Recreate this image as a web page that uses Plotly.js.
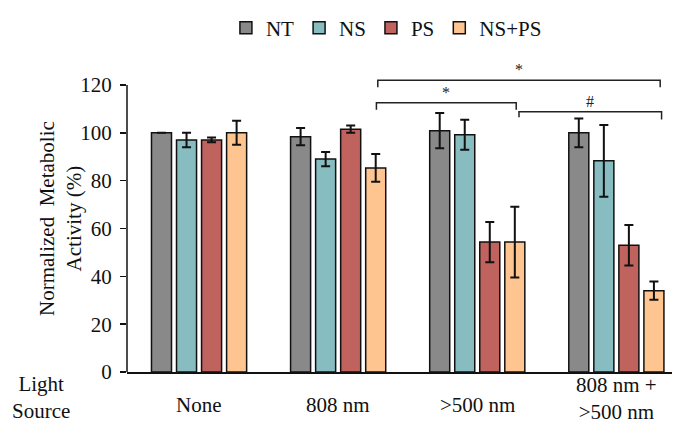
<!DOCTYPE html>
<html>
<head>
<meta charset="utf-8">
<script src="https://cdn.plot.ly/plotly-3.0.1.min.js"></script>
<style>html,body{margin:0;padding:0;background:#fff;}#chart{width:676px;height:426px;}</style>
</head>
<body>
<div id="chart"></div>
<script>
// Data
const categories = ['None', '808 nm', '>500 nm', '808 nm +<br>>500 nm'];
const seriesNames = ['NT', 'NS', 'PS', 'NS+PS'];
const ntValues = [100, 98.4, 100.9, 100];
const ntErrors = [0, 3.6, 7.4, 6];
const nsValues = [97, 89, 99.2, 88.3];
const nsErrors = [3, 3, 6.3, 15];
const psValues = [97, 101.5, 54.3, 53];
const psErrors = [1, 1.5, 8.4, 8.5];
const nspsValues = [100, 85.3, 54.3, 34];
const nspsErrors = [5, 5.8, 14.8, 3.8];
const seriesColors = ['#898989', '#87bcc0', '#c0635e', '#ffc591'];
const yTicks = [0, 20, 40, 60, 80, 100, 120];
const yTitle = 'Normalized  Metabolic<br>Activity (%)';

// Significance brackets (category-index positions, y in % units)
const bracketStart = [1.285, 1.275, 2.30];
const bracketEnd = [3.315, 2.28, 3.325];
const bracketY = [122, 112.6, 108.8];
const bracketDropLeft = [3, 3, 2.3];
const bracketDropRight = [3, 3, 3.2];
const bracketLabels = ['*', '*', '#'];

const FONT = 'Liberation Serif';
const FS = 21;
const valuesList = [ntValues, nsValues, psValues, nspsValues];
const errorsList = [ntErrors, nsErrors, psErrors, nspsErrors];

const traces = seriesNames.map((name, i) => ({
  type: 'bar',
  name: name,
  x: categories,
  y: valuesList[i],
  marker: {color: seriesColors[i], line: {color: '#111', width: 1.5}},
  error_y: {type: 'data', array: errorsList[i], visible: true, color: '#111', thickness: 2, width: 4.5},
  hoverinfo: 'skip'
}));

const shapes = bracketStart.map((s, i) => ({
  type: 'path', xref: 'x', yref: 'y',
  path: 'M ' + s + ',' + (bracketY[i] - bracketDropLeft[i]) + ' L ' + s + ',' + bracketY[i] +
        ' L ' + bracketEnd[i] + ',' + bracketY[i] + ' L ' + bracketEnd[i] + ',' + (bracketY[i] - bracketDropRight[i]),
  line: {color: '#222', width: 1.5}
}));
// y axis line from 0 to 120
shapes.push({type: 'line', xref: 'paper', yref: 'y', x0: 0, x1: 0, y0: 0, y1: 120, line: {color: '#111', width: 1.5}});

const annotations = bracketStart.map((s, i) => ({
  x: (s + bracketEnd[i]) / 2, y: bracketY[i], xref: 'x', yref: 'y',
  text: bracketLabels[i], showarrow: false, yanchor: 'bottom', yshift: 0,
  font: {family: FONT, size: 16, color: '#222'}
}));
categories.forEach(c => annotations.push({
  x: c, xref: 'x', y: c.indexOf('<br>') >= 0 ? -0.09 : -0.112, yref: 'paper', text: c, showarrow: false,
  yanchor: 'middle', xanchor: 'center', font: {family: FONT, size: FS, color: '#111'}
}));
annotations.push({
  x: -0.158, xref: 'paper', y: -0.085, yref: 'paper', text: 'Light<br>Source', showarrow: false,
  xanchor: 'center', yanchor: 'middle', font: {family: FONT, size: FS, color: '#111'}
});
annotations.push({
  x: -0.123, xref: 'paper', y: 0.515, yref: 'paper', text: yTitle, showarrow: false, textangle: -90,
  xanchor: 'center', yanchor: 'middle', font: {family: FONT, size: FS, color: '#111'}
});

const layout = {
  width: 676, height: 426,
  margin: {l: 127, r: 4, t: 73, b: 54},
  paper_bgcolor: '#fff', plot_bgcolor: '#fff',
  font: {family: FONT, size: FS, color: '#111'},
  barmode: 'group', bargap: 0.28, bargroupgap: 0.2,
  showlegend: true,
  legend: {orientation: 'h', x: 0.476, xanchor: 'center', y: 1.15, yanchor: 'middle',
           font: {family: FONT, size: FS, color: '#111'}, traceorder: 'normal'},
  xaxis: {type: 'category', range: [-0.518, 3.40], showticklabels: false, ticks: '',
          showline: true, linecolor: '#111', linewidth: 1.5, showgrid: false, zeroline: false, fixedrange: true},
  yaxis: {range: [0, 125], tickvals: yTicks, ticks: 'outside', ticklen: 6, tickwidth: 1.5, tickcolor: '#111',
          showline: false, showgrid: false, zeroline: false, ticklabelstandoff: 4,
          tickfont: {family: FONT, size: FS, color: '#111'}},
  shapes: shapes,
  annotations: annotations
};

Plotly.newPlot('chart', traces, layout, {displayModeBar: false, staticPlot: true});
</script>
</body>
</html>
